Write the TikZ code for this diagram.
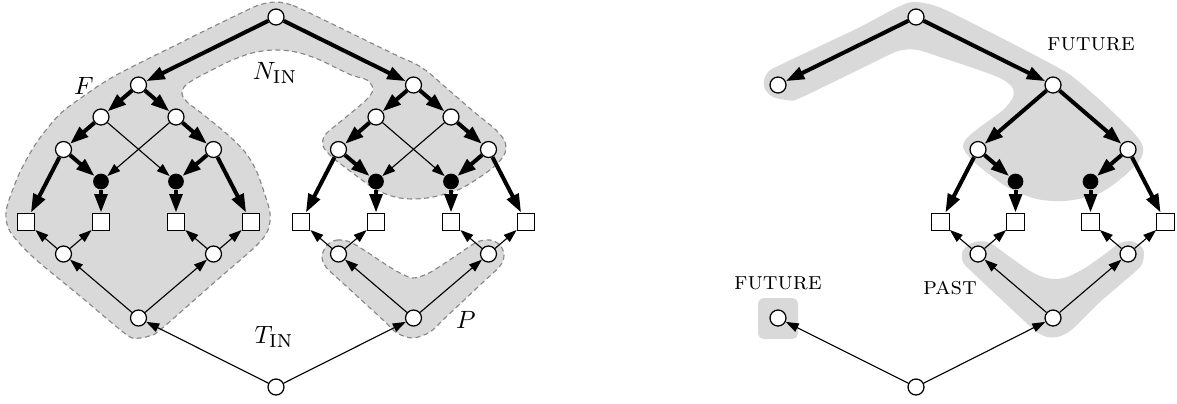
\documentclass[tikz,border=0pt]{standalone}
\usetikzlibrary{arrows.meta}
\definecolor{shade}{RGB}{217,217,217}
\definecolor{rim}{RGB}{135,135,135}
\begin{document}
\begin{tikzpicture}[x=0.4pt,y=-0.4pt,
  circ/.style={circle,draw,fill=white,line width=0.5pt,inner sep=0pt,minimum size=6.4pt},
  blk/.style={circle,fill=black,inner sep=0pt,minimum size=6.3pt},
  sq/.style={rectangle,draw,fill=white,line width=0.5pt,inner sep=0pt,minimum size=7pt},
  thk/.style={line width=1.6pt,-{Triangle[length=7.4pt,width=5pt]}},
  thn/.style={line width=0.45pt,-{Triangle[length=5.2pt,width=3.6pt]}},
  region/.style={fill=shade,draw=rim,line width=0.45pt,dash pattern=on 2pt off 1.4pt},
  plainregion/.style={fill=shade},
  lbl/.style={anchor=base,inner sep=0pt}]
\useasboundingbox (0,0) rectangle (1177,403);
% ---------- shaded regions, left picture ----------
\path[region] plot[smooth cycle,tension=0.5] coordinates {
(276,2) (293,5.5) (320,18) (360,37.5) (400,57) (414,63) (428,72) (443,85) (473,111) (496,130) (505,142) (505,153) (497,164) (483,175) (460,189) (433,197) (413,199) (395,197) (375,189) (350,171) (332,157) (323,146) (325,135) (340,122) (357,108) (368,98) (373,89) (367,80) (350,74.5) (320,60) (300,53) (286,50.5) (276,50) (266,50.5) (250,53.5) (230,61) (210,71) (193,80) (184,87) (182,94) (187,102) (200,112) (227,134) (245,152) (256,170) (264,192) (270,213) (268,230) (256,246) (217,280) (160,330) (149,336) (139,338) (127,335) (80,296) (33,257) (11,233) (6,218) (8,203) (20,172) (37,142) (60,114) (88,93) (111,78) (140,62.8) (173,46.5) (200,33) (240,13.5) (259,5)};
\path[region] plot[smooth cycle,tension=0.5] coordinates {
(327,245) (337,240) (350,242) (367,252) (385,264) (400,273) (413,278) (427,274) (442,265) (460,253) (477,242) (490,240) (500,245) (504,255) (500,266) (480,285) (445,318) (430,332) (413,338) (397,333) (382,319) (345,285) (326,267) (322,256)};
% ---------- shaded regions, right picture ----------
\path[plainregion] plot[smooth cycle,tension=0.5] coordinates {
(916,2) (940,7.5) (980,27) (1020,47.5) (1057,67) (1073,77) (1100,100) (1133,132) (1143,147) (1140,160) (1123,177) (1100,193) (1073,200) (1053,201) (1033,198) (1007,187) (985,171) (970,158) (963,147) (967,138) (980,127) (1003,110) (1013,97) (1012,87) (1000,78) (973,68) (940,57) (920,50.5) (907,49.5) (893,53) (850,74) (800,98) (790,100.5) (773,97) (765,89) (764,80) (769,71) (780,65) (820,46) (860,27) (900,6)};
\path[plainregion] plot[smooth cycle,tension=0.5] coordinates {
(967,246) (977,241.5) (990,243) (1010,257) (1030,271) (1043,277) (1055,279) (1067,277) (1085,268) (1105,254) (1120,243) (1133,241.5) (1143,249) (1143,261) (1137,270) (1100,302) (1070,331) (1053,337.5) (1037,332) (1005,303) (970,270) (963,262) (962,253)};
\path[plainregion,rounded corners=2.2pt] (758,298) rectangle (798,339);
% ---------- left picture ----------
\node[circ] (top) at (276,17) {};
\node[circ] (bot) at (276,387) {};
\foreach \c/\n in {138.5/L,413.5/R}{
  \node[circ] (\n) at (\c,85) {};
  \node[circ] (\n1) at (\c-37.5,117) {};
  \node[circ] (\n2) at (\c+37.5,117) {};
  \node[circ] (\n11) at (\c-75,149.5) {};
  \node[circ] (\n22) at (\c+75,149.5) {};
  \node[blk] (\n x) at (\c-37.5,181.5) {};
  \node[blk] (\n y) at (\c+37.5,181.5) {};
  \node[sq] (\n s1) at (\c-112.5,222) {};
  \node[sq] (\n s2) at (\c-37.5,222) {};
  \node[sq] (\n s3) at (\c+37.5,222) {};
  \node[sq] (\n s4) at (\c+112.5,222) {};
  \node[circ] (\n c1) at (\c-75,254) {};
  \node[circ] (\n c2) at (\c+75,254) {};
  \node[circ] (\n t) at (\c,318) {};
  \draw[thk] (\n) -- (\n1);
  \draw[thk] (\n) -- (\n2);
  \draw[thk] (\n1) -- (\n11);
  \draw[thk] (\n2) -- (\n22);
  \draw[thk] (\n11) -- (\n x);
  \draw[thk] (\n22) -- (\n y);
  \draw[thk] (\n11) -- (\n s1);
  \draw[thk] (\n22) -- (\n s4);
  \draw[thk] (\n x) -- (\n s2);
  \draw[thk] (\n y) -- (\n s3);
  \draw[thn] (\n1) -- (\n y);
  \draw[thn] (\n2) -- (\n x);
  \draw[thn] (\n t) -- (\n c1);
  \draw[thn] (\n t) -- (\n c2);
  \draw[thn] (\n c1) -- (\n s1);
  \draw[thn] (\n c1) -- (\n s2);
  \draw[thn] (\n c2) -- (\n s3);
  \draw[thn] (\n c2) -- (\n s4);
  \draw[thn] (bot) -- (\n t);
}
\draw[thk] (top) -- (L);
\draw[thk] (top) -- (R);
\node[lbl] (labF) at (84,94) {$F$};
\node[lbl] (labN) at (275,79) {$N_{\textsc{in}}$};
\node[lbl] (labT) at (274,343) {$T_{\textsc{in}}$};
\node[lbl] (labP) at (466,328) {$P$};
% ---------- right picture ----------
\node[circ] (r0) at (916,17) {};
\node[circ] (rl) at (778,85) {};
\node[circ] (rr) at (1053,85) {};
\node[circ] (rr11) at (978,149.5) {};
\node[circ] (rr22) at (1128,149.5) {};
\node[blk] (rx) at (1015.5,181.5) {};
\node[blk] (ry) at (1090.5,181.5) {};
\node[sq] (rs1) at (940.5,222) {};
\node[sq] (rs2) at (1015.5,222) {};
\node[sq] (rs3) at (1090.5,222) {};
\node[sq] (rs4) at (1165.5,222) {};
\node[circ] (rc1) at (978,254) {};
\node[circ] (rc2) at (1128,254) {};
\node[circ] (rt) at (1053,318) {};
\node[circ] (rf) at (778,318) {};
\node[circ] (rb) at (916,387) {};
\draw[thk] (r0) -- (rl);
\draw[thk] (r0) -- (rr);
\draw[thk] (rr) -- (rr11);
\draw[thk] (rr) -- (rr22);
\draw[thk] (rr11) -- (rx);
\draw[thk] (rr22) -- (ry);
\draw[thk] (rr11) -- (rs1);
\draw[thk] (rr22) -- (rs4);
\draw[thk] (rx) -- (rs2);
\draw[thk] (ry) -- (rs3);
\draw[thn] (rb) -- (rf);
\draw[thn] (rb) -- (rt);
\draw[thn] (rt) -- (rc1);
\draw[thn] (rt) -- (rc2);
\draw[thn] (rc1) -- (rs1);
\draw[thn] (rc1) -- (rs2);
\draw[thn] (rc2) -- (rs3);
\draw[thn] (rc2) -- (rs4);
\node[lbl] (labFut1) at (1091,50) {\textsc{future}};
\node[lbl] (labFut2) at (778,289) {\textsc{future}};
\node[lbl] (labPast) at (950,294) {\textsc{past}};
\end{tikzpicture}
\end{document}
